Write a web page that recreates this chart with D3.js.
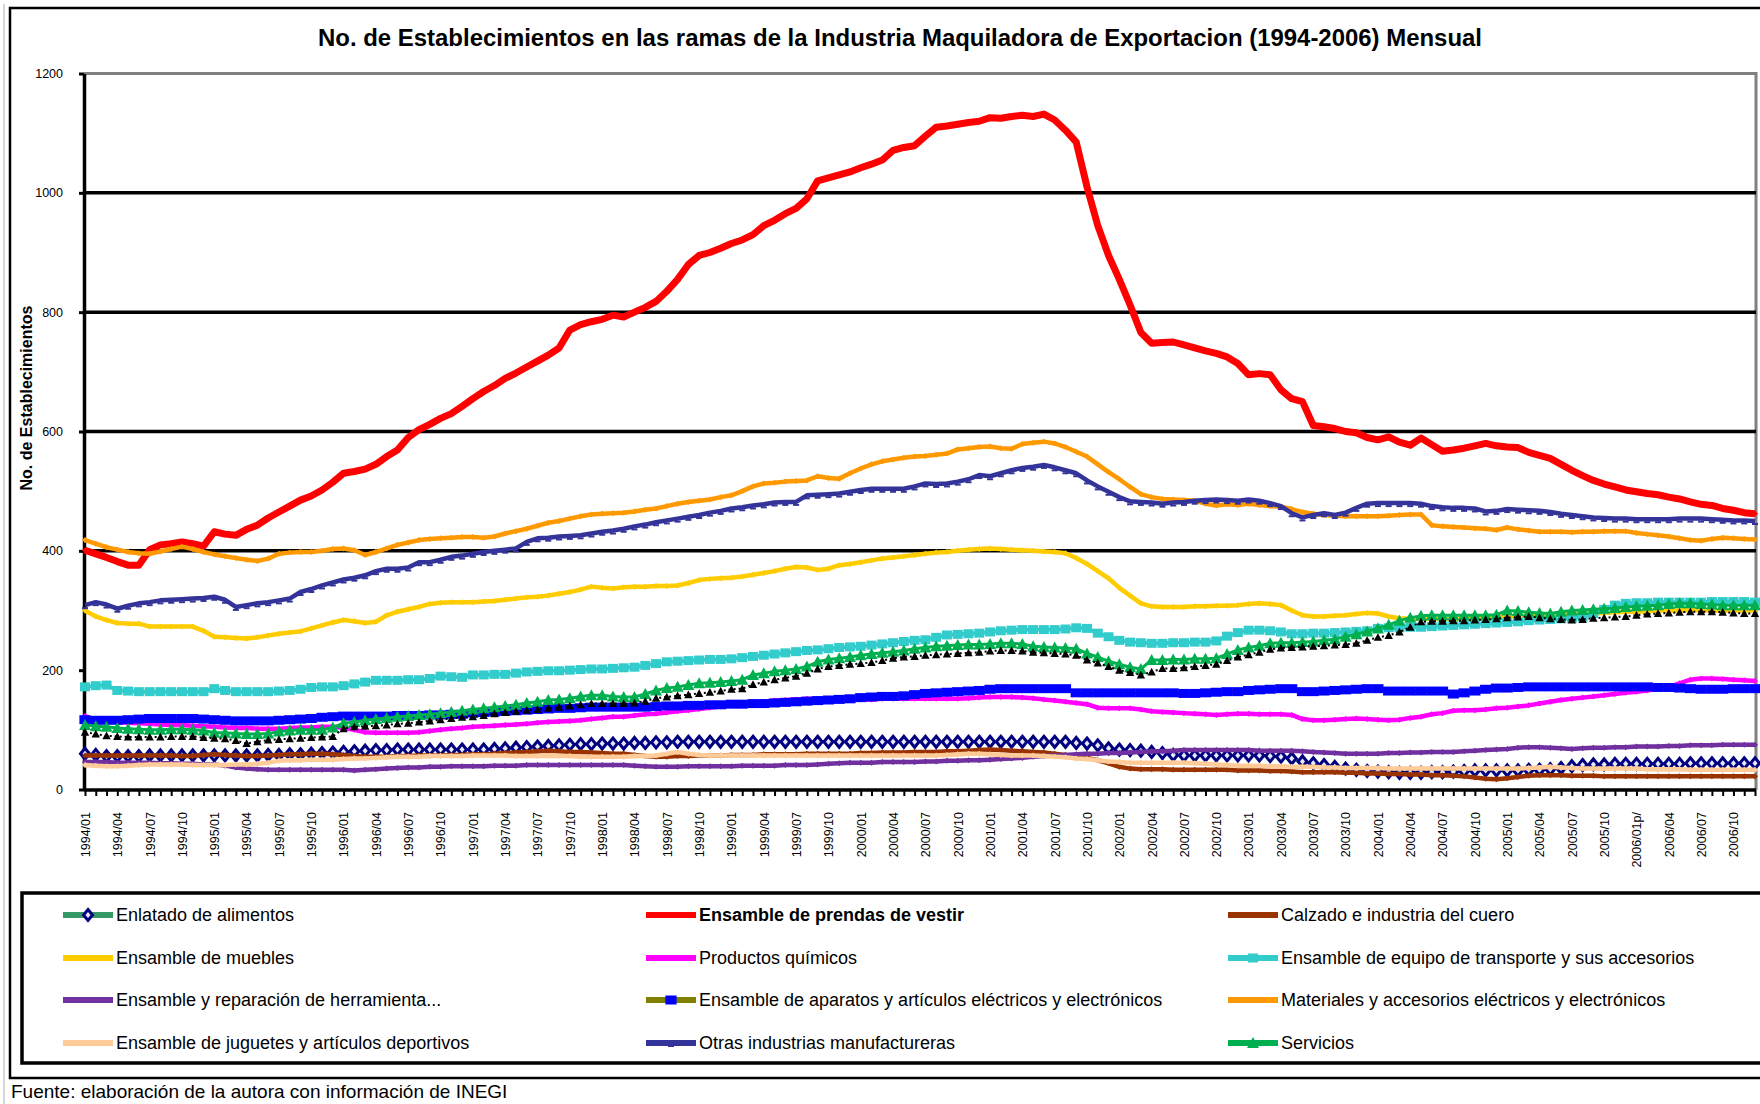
<!DOCTYPE html>
<html>
<head>
<meta charset="utf-8">
<script src="https://cdn.jsdelivr.net/npm/d3@7"></script>
<style>
body { margin: 0; background: #fff; }
svg { display: block; font-family: "Liberation Sans", Arial, sans-serif; }
</style>
</head>
<body>
<svg width="1760" height="1104"></svg>
<script>
// month categories 1994/01 .. 2006/12, labels every 3 months
var years = [1994, 1995, 1996, 1997, 1998, 1999, 2000, 2001, 2002, 2003, 2004, 2005, 2006];
var tickLabels = [
  "1994/01","1994/04","1994/07","1994/10","1995/01","1995/04","1995/07","1995/10",
  "1996/01","1996/04","1996/07","1996/10","1997/01","1997/04","1997/07","1997/10",
  "1998/01","1998/04","1998/07","1998/10","1999/01","1999/04","1999/07","1999/10",
  "2000/01","2000/04","2000/07","2000/10","2001/01","2001/04","2001/07","2001/10",
  "2002/01","2002/04","2002/07","2002/10","2003/01","2003/04","2003/07","2003/10",
  "2004/01","2004/04","2004/07","2004/10","2005/01","2005/04","2005/07","2005/10",
  "2006/01p/","2006/04","2006/07","2006/10"
];
var yTicks = [0, 200, 400, 600, 800, 1000, 1200];
var gridValues = [400, 600, 800, 1000];

// series values, one row per year
var enlatado = [
  60,58,56,56,56,56,57,57,57,57,57,57,
  57,57,57,57,57,58,58,59,59,60,61,62,
  63,64,65,66,66,67,67,67,67,67,67,67,
  67,67,68,69,70,71,72,73,74,75,76,76,
  77,77,77,78,78,79,79,80,80,80,80,80,
  80,80,80,80,80,80,80,80,80,80,80,80,
  80,80,80,80,80,80,80,80,80,80,80,80,
  80,80,80,80,80,80,80,80,78,77,74,69,
  67,66,65,63,61,58,57,57,57,57,57,57,
  57,57,56,55,52,47,44,41,38,35,33,31,
  30,29,28,28,28,29,29,30,31,32,32,32,
  32,32,33,33,34,36,39,41,42,42,43,43,
  43,43,43,43,43,44,44,44,44,44,44,44
];
var prendas = [
  401,395,389,382,376,376,402,410,412,415,412,408,
  432,428,426,436,443,455,465,475,485,492,502,515,
  530,533,537,545,558,569,590,603,612,622,630,642,
  655,667,677,689,698,708,718,728,740,770,779,784,
  788,795,792,800,808,818,835,855,880,895,900,907,
  915,921,930,945,954,965,974,990,1020,1025,1030,1035,
  1042,1048,1055,1071,1076,1079,1095,1110,1112,1115,1118,1120,
  1126,1125,1128,1130,1128,1132,1122,1105,1085,1010,945,895,
  855,812,766,748,749,750,745,740,735,731,725,714,
  695,697,695,670,655,650,610,608,605,600,598,590,
  586,591,582,577,589,578,567,569,572,576,580,576,
  574,573,565,560,555,545,535,526,518,512,507,502,
  499,496,494,490,487,482,478,476,471,468,464,462
];
var calzado = [
  57,57,57,57,57,57,57,57,57,56,56,58,
  59,58,57,56,56,57,58,59,59,60,60,59,
  58,56,55,55,55,56,56,57,57,57,58,58,
  59,59,60,61,62,63,64,65,64,63,63,62,
  61,60,60,58,56,55,55,56,56,57,57,57,
  58,58,58,59,59,59,59,60,60,60,60,60,
  61,61,62,62,62,63,63,63,64,64,65,66,
  67,66,65,64,63,62,60,58,56,53,49,44,
  38,35,34,34,34,33,33,33,33,33,33,32,
  32,32,31,31,30,29,29,29,29,28,28,27,
  27,26,26,25,25,24,24,23,22,20,18,17,
  19,21,23,24,24,24,23,23,23,22,22,22,
  22,22,22,22,22,22,22,22,22,22,22,22
];
var muebles = [
  300,290,284,279,278,278,273,273,273,273,273,266,
  256,255,254,253,255,258,261,263,265,270,275,280,
  284,282,279,281,292,298,302,306,311,313,314,314,
  314,315,316,318,320,322,323,325,328,331,335,340,
  338,337,339,340,340,341,341,342,346,351,353,354,
  355,357,360,363,366,370,373,372,368,370,376,378,
  381,384,387,389,391,393,395,397,398,400,402,403,
  404,403,402,401,400,399,398,396,388,378,366,354,
  338,325,312,307,306,306,306,307,307,308,308,309,
  311,312,311,309,300,292,290,290,291,292,294,296,
  295,290,287,286,286,286,286,286,286,287,288,289,
  290,290,291,291,292,293,294,295,295,296,297,298,
  298,299,300,300,300,301,301,300,300,300,300,300
];
var quimicos = [
  123,116,115,113,112,111,110,109,108,108,107,106,
  105,104,103,103,102,102,102,103,104,104,105,105,
  103,100,96,95,95,95,95,96,98,100,102,103,
  105,106,107,108,109,110,112,113,114,115,116,118,
  120,122,122,124,126,127,129,131,133,135,137,139,
  141,143,145,147,149,150,151,152,152,152,152,151,
  151,151,152,152,152,152,152,152,152,152,153,154,
  155,155,155,154,153,151,149,147,145,143,137,136,
  136,136,134,131,130,129,128,127,126,125,126,127,
  127,126,126,126,125,118,116,116,117,118,119,118,
  117,116,117,120,122,126,128,132,133,133,134,136,
  137,139,141,144,147,150,152,154,156,158,160,162,
  164,166,169,172,178,184,186,186,185,184,183,182
];
var transporte = [
  172,174,175,166,165,164,164,164,164,164,164,164,
  169,166,164,164,164,164,165,166,168,171,172,172,
  174,177,180,183,183,183,184,184,186,190,189,188,
  192,192,193,193,195,197,198,199,199,200,201,202,
  202,203,204,205,208,211,214,215,216,217,218,218,
  219,221,223,225,227,229,231,233,234,236,238,239,
  240,242,244,246,248,250,251,255,259,260,261,262,
  264,266,267,268,268,268,268,269,271,270,262,256,
  250,247,246,245,245,246,246,247,247,249,257,263,
  267,267,266,264,261,261,262,262,263,264,265,266,
  270,271,271,272,272,273,274,275,276,277,278,279,
  280,281,283,284,285,286,287,289,295,302,309,312,
  313,313,314,314,314,314,314,315,315,315,315,314
];
var herramienta = [
  46,46,46,45,45,45,45,44,44,43,43,42,
  42,40,37,35,34,33,33,33,33,33,33,33,
  33,32,33,34,35,36,37,37,38,38,39,39,
  39,39,40,40,40,41,41,41,41,41,41,41,
  41,41,41,40,39,38,38,38,39,39,39,39,
  39,40,40,40,40,41,41,41,42,43,44,45,
  45,45,46,46,46,46,47,47,48,48,49,49,
  50,51,52,53,55,56,57,58,59,60,60,61,
  61,62,63,64,64,65,66,66,66,66,66,66,
  66,65,65,65,65,64,63,62,61,60,60,60,
  60,61,61,62,62,63,63,63,64,65,66,67,
  68,70,71,71,70,69,68,69,70,70,71,71,
  72,72,72,73,73,74,74,74,75,75,75,75
];
var aparatos = [
  117,116,116,116,117,118,119,119,119,119,119,118,
  117,116,115,115,115,115,116,117,118,119,121,122,
  123,123,123,123,123,124,124,124,125,125,126,126,
  128,129,130,131,132,133,134,135,136,136,137,138,
  138,138,138,138,138,139,140,140,141,141,142,142,
  143,143,144,144,145,146,147,148,149,150,151,152,
  154,155,156,156,157,159,161,162,163,164,165,166,
  168,169,169,169,169,169,169,169,162,162,162,162,
  162,162,162,162,162,162,161,161,162,163,164,164,
  166,167,168,169,169,164,164,165,166,167,168,169,
  169,165,165,165,165,165,165,160,162,165,168,170,
  170,171,172,172,172,172,172,172,172,172,172,172,
  172,172,171,171,170,169,168,168,168,169,169,169
];
var materiales = [
  418,412,406,402,398,396,395,399,403,407,403,398,
  394,391,388,385,383,387,395,397,398,398,400,403,
  404,401,393,398,404,410,414,418,420,421,422,423,
  423,422,424,429,433,437,442,447,450,454,458,461,
  462,463,464,466,469,471,475,479,482,484,486,490,
  493,500,508,513,514,516,517,518,525,522,521,530,
  538,545,550,553,556,558,559,561,563,570,572,574,
  575,572,571,579,581,583,580,574,566,558,545,532,
  520,507,495,490,487,486,485,484,479,476,478,477,
  479,477,475,474,470,465,462,460,459,458,458,458,
  458,459,460,461,461,443,441,440,439,438,437,435,
  439,436,434,432,432,432,431,432,432,433,433,433,
  430,428,426,424,421,418,417,420,422,421,420,419
];
var juguetes = [
  41,40,39,39,40,41,42,42,42,42,41,41,
  41,41,42,42,43,45,48,49,49,50,50,50,
  51,52,52,53,54,55,55,55,56,56,56,56,
  57,57,57,57,56,56,56,56,56,56,55,55,
  55,55,55,56,56,57,60,63,60,58,57,57,
  57,57,57,57,57,57,57,57,57,57,57,57,
  57,57,57,57,57,57,57,57,58,59,60,60,
  59,58,57,57,57,56,55,54,52,51,49,47,
  46,45,45,45,45,45,45,44,43,42,41,40,
  40,40,39,39,38,38,38,37,37,36,36,36,
  36,35,35,35,35,35,35,35,35,35,35,35,
  35,35,36,37,38,37,36,35,35,35,35,35,
  35,34,34,34,34,33,33,33,33,33,33,33
];
var otras = [
  309,314,310,303,308,312,314,317,318,319,320,321,
  323,318,306,309,312,314,317,320,331,336,342,347,
  352,355,359,366,370,370,372,381,381,385,390,392,
  395,398,400,402,404,415,421,422,424,425,426,429,
  432,434,437,441,444,448,451,454,457,460,464,467,
  471,473,476,478,481,482,482,493,494,495,496,499,
  502,504,504,504,504,508,513,512,513,516,520,527,
  525,530,535,539,541,544,540,535,530,518,508,499,
  490,483,482,481,479,481,482,484,485,486,485,484,
  486,484,480,475,463,456,460,463,460,464,472,479,
  480,480,480,480,479,475,473,472,472,471,466,467,
  470,469,468,467,465,462,460,458,456,455,454,454,
  453,453,453,453,454,454,454,453,452,451,451,450
];
var servicios = [
  108,106,105,103,102,101,100,100,101,101,100,99,
  95,95,94,93,93,94,97,99,100,100,100,104,
  111,113,116,118,120,122,123,125,126,128,130,132,
  134,136,138,140,142,145,147,150,151,153,156,158,
  158,156,155,155,160,166,170,172,175,178,179,180,
  182,184,192,195,198,200,202,206,214,218,220,222,
  225,227,229,231,233,236,238,240,241,242,243,243,
  244,245,245,244,240,239,238,237,236,228,222,215,
  210,205,202,217,217,218,218,219,219,220,227,234,
  238,241,245,246,246,247,248,250,252,256,260,265,
  270,276,283,288,291,292,292,292,292,292,292,293,
  300,299,297,296,295,298,300,301,302,303,304,306,
  307,308,309,311,312,312,311,310,309,309,309,309
];
// series without a legend entry (black triangles)
var serie13 = [
  96,93,90,89,88,88,88,88,89,89,89,87,
  86,85,82,77,80,83,84,85,86,87,88,89,
  102,105,106,107,108,110,111,113,115,117,119,121,
  122,124,127,129,131,133,134,136,138,140,142,144,
  144,144,144,145,148,153,155,157,159,161,163,165,
  168,169,176,180,184,187,190,195,202,206,208,210,
  211,213,216,220,222,223,225,226,227,228,229,230,
  232,233,233,232,230,229,228,227,225,217,212,206,
  200,196,192,197,203,203,204,206,208,210,216,222,
  226,230,235,237,238,239,240,241,242,243,245,250,
  255,258,264,272,281,282,282,283,283,284,285,286,
  288,289,290,288,286,285,284,285,287,288,289,290,
  292,294,295,296,297,298,298,298,297,296,295,295
];

var months = [];
years.forEach(function (yr) {
  for (var m = 1; m <= 12; m++) months.push(yr + "/" + (m < 10 ? "0" : "") + m);
});

// marker shapes
var shapes = {
  diamond: "M0,-5.5L4.5,0L0,5.5L-4.5,0Z",
  square: "M-5,-4.5h10v9h-10z",
  wide: "M-5.6,-4.5h11.2v9h-11.2z",
  triangle: "M0,-6L6,5L-6,5Z",
  small: "M-3,0L0,-3L3,0L0,3Z",
  dash: "M-3,2h6v2h-6z"
};

// drawing order follows the legend order
var series = [
  { name: "Enlatado de alimentos", data: enlatado, color: "#339966", width: 3, marker: "diamond", mFill: "#e8e8f4", mStroke: "#000080", mWidth: 3 },
  { name: "Ensamble de prendas de vestir", data: prendas, color: "#ff0000", width: 7, marker: "small", mFill: "#ff0000", bold: true },
  { name: "Calzado e industria del cuero", data: calzado, color: "#993300", width: 4.5, marker: "small", mFill: "#993300" },
  { name: "Ensamble de muebles", data: muebles, color: "#ffcc00", width: 4.5, marker: "small", mFill: "#ffcc00" },
  { name: "Productos químicos", data: quimicos, color: "#ff00ff", width: 4.5, marker: "small", mFill: "#ff00ff" },
  { name: "Ensamble de equipo de transporte y sus accesorios", data: transporte, color: "#33cccc", width: 4, marker: "square", mFill: "#33cccc" },
  { name: "Ensamble y reparación de herramienta...", data: herramienta, color: "#7030a0", width: 4.5, marker: "small", mFill: "#7030a0" },
  { name: "Ensamble de aparatos y artículos eléctricos y electrónicos", data: aparatos, color: "#808000", width: 4, marker: "wide", mFill: "#0000ff" },
  { name: "Materiales y accesorios eléctricos y electrónicos", data: materiales, color: "#ff9900", width: 4.5, marker: "small", mFill: "#ff9900" },
  { name: "Ensamble de juguetes y artículos deportivos", data: juguetes, color: "#ffcc99", width: 4.5, marker: "small", mFill: "#ffcc99" },
  { name: "Otras industrias manufactureras", data: otras, color: "#333399", width: 4.5, marker: "dash", mFill: "#333399" },
  { name: "Servicios", data: servicios, color: "#00b050", width: 3, marker: "triangle", mFill: "#00b050" },
  { name: null, data: serie13, color: "#000", width: 2, dash: "2,3", marker: "triangle", mFill: "#000", mScale: 0.7 }
];

var svg = d3.select("svg");
var font = "\"Liberation Sans\", Arial, sans-serif";

var x = d3.scaleLinear().domain([0, months.length - 1]).range([85, 1755]);
var y = d3.scaleLinear().domain([0, 1200]).range([789.5, 73.5]);

// outer frame
svg.append("line").attr("x1", 4).attr("x2", 4).attr("y1", 4).attr("y2", 1104)
  .attr("stroke", "#c8c8c8").attr("stroke-width", 1.5);
svg.append("rect").attr("x", 10).attr("y", 8).attr("width", 1760).attr("height", 1070)
  .attr("fill", "none").attr("stroke", "#000").attr("stroke-width", 2.5);

// title
svg.append("text").attr("x", 900).attr("y", 46).attr("text-anchor", "middle")
  .attr("font-size", 23).attr("font-weight", "bold")
  .attr("textLength", 1164).attr("lengthAdjust", "spacingAndGlyphs")
  .text("No. de Establecimientos  en las ramas de la Industria Maquiladora de Exportacion (1994-2006)  Mensual");

// plot frame top/right in gray
svg.append("path").attr("d", "M84," + y(1200) + "H1756V790")
  .attr("fill", "none").attr("stroke", "#808080").attr("stroke-width", 3);

// gridlines
svg.append("g").selectAll("line").data(gridValues).enter().append("line")
  .attr("x1", 84).attr("x2", 1756)
  .attr("y1", function (d) { return y(d); })
  .attr("y2", function (d) { return y(d); })
  .attr("stroke", "#000").attr("stroke-width", 3.5);

// y axis
var yAxis = svg.append("g").attr("transform", "translate(84,0)")
  .call(d3.axisLeft(y).tickValues(yTicks).tickSize(5).tickPadding(16).tickSizeOuter(0)
    .tickFormat(d3.format("d")));
yAxis.select(".domain").attr("stroke-width", 3.5);
yAxis.selectAll(".tick line").attr("stroke-width", 3);
yAxis.selectAll("text").attr("font-size", 12.5).attr("font-family", font).attr("fill", "#000");

svg.append("text").attr("transform", "translate(32,398) rotate(-90)")
  .attr("text-anchor", "middle").attr("font-size", 16).attr("font-weight", "bold")
  .text("No. de Establecimientos");

// series lines and markers
var line = d3.line()
  .x(function (d, i) { return x(i); })
  .y(function (d) { return y(d); });

series.forEach(function (s) {
  svg.append("path")
    .datum(s.data)
    .attr("fill", "none")
    .attr("stroke", s.color)
    .attr("stroke-width", s.width)
    .attr("stroke-dasharray", s.dash || null)
    .attr("stroke-linejoin", "round")
    .attr("d", line);

  svg.append("g").selectAll("path").data(s.data).enter().append("path")
    .attr("d", shapes[s.marker])
    .attr("transform", function (d, i) {
      return "translate(" + x(i) + "," + y(d) + ")" + (s.mScale ? " scale(" + s.mScale + ")" : "");
    })
    .attr("fill", s.mFill)
    .attr("stroke", s.mStroke || "none")
    .attr("stroke-width", s.mWidth || 0);
});

// x axis, every month ticked, every third labelled
var xAxis = svg.append("g").attr("transform", "translate(0,790)")
  .call(d3.axisBottom(x).tickValues(d3.range(months.length)).tickSize(6).tickSizeOuter(0)
    .tickFormat(function (i) { return i % 3 === 0 ? tickLabels[i / 3] : ""; }));
xAxis.select(".domain").attr("stroke-width", 3.5).attr("d", "M84,0H1756");
xAxis.selectAll(".tick line").attr("stroke-width", 2);
xAxis.selectAll("text")
  .attr("font-size", 12.5).attr("font-family", font).attr("fill", "#000")
  .attr("transform", "rotate(-90)")
  .attr("x", -22).attr("y", 0).attr("dy", "0.35em")
  .style("text-anchor", "end");

// legend
svg.append("rect").attr("x", 22).attr("y", 893).attr("width", 1760).attr("height", 170)
  .attr("fill", "none").attr("stroke", "#000").attr("stroke-width", 3.5);

var legCols = [63, 646, 1228];
var legRows = [915, 958, 1000, 1043];
var legend = svg.append("g").selectAll("g")
  .data(series.filter(function (s) { return s.name; }))
  .enter().append("g")
  .attr("transform", function (d, i) {
    return "translate(" + legCols[i % 3] + "," + legRows[Math.floor(i / 3)] + ")";
  });
legend.append("line").attr("x1", 0).attr("x2", 50)
  .attr("stroke", function (d) { return d.color; })
  .attr("stroke-width", 6);
legend.append("path")
  .attr("d", function (d) { return shapes[d.marker]; })
  .attr("transform", "translate(25,0)")
  .attr("fill", function (d) { return d.mFill; })
  .attr("stroke", function (d) { return d.mStroke || "none"; })
  .attr("stroke-width", function (d) { return d.mWidth || 0; });
legend.append("text").attr("x", 53).attr("dy", "0.35em")
  .attr("font-size", 18)
  .attr("font-weight", function (d) { return d.bold ? "bold" : "normal"; })
  .text(function (d) { return d.name; });

// source note
svg.append("text").attr("x", 11).attr("y", 1098).attr("font-size", 19)
  .text("Fuente: elaboración de la autora con información de INEGI");
</script>
</body>
</html>
